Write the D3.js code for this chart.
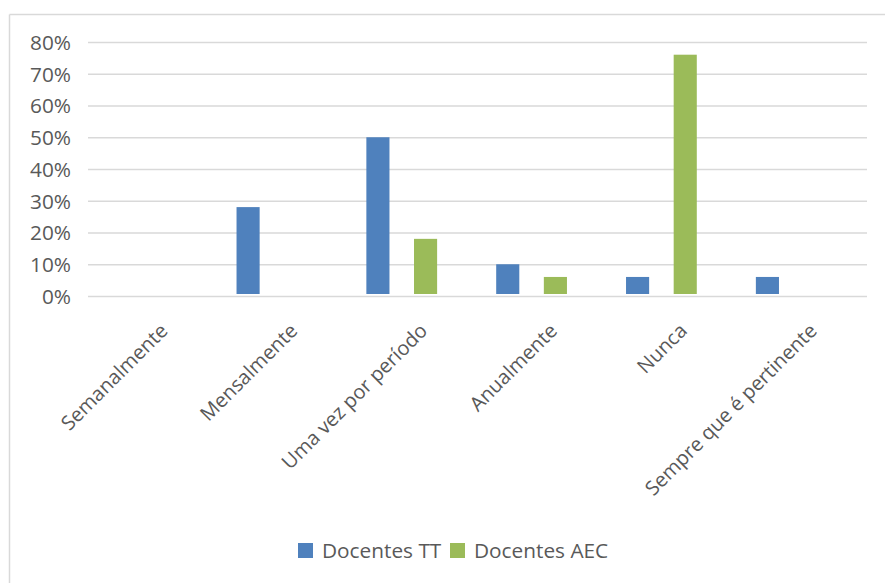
<!DOCTYPE html>
<html>
<head>
<meta charset="utf-8">
<script src="https://cdn.jsdelivr.net/npm/d3@7"></script>
<style>
  html, body { margin: 0; padding: 0; background: #ffffff; }
  svg { display: block; }
  text { font-family: "Open Sans", "DejaVu Sans", sans-serif; fill: #595959; }
</style>
</head>
<body>
<svg id="chart" width="885" height="583"></svg>
<script>
// ---- Data ----
const categories = ["Semanalmente", "Mensalmente", "Uma vez por período", "Anualmente", "Nunca", "Sempre que é pertinente"];
const seriesNames = ["Docentes TT", "Docentes AEC"];
const docentesTT  = [0, 0.28, 0.50, 0.10, 0.06, 0.06];
const docentesAEC = [0, 0, 0.18, 0.06, 0.76, 0];
const yTicks = [0, 0.1, 0.2, 0.3, 0.4, 0.5, 0.6, 0.7, 0.8];
const colors = ["#4F81BD", "#9BBB59"];

const seriesValues = [docentesTT, docentesAEC];

// ---- Layout ----
const W = 885, H = 583;
const plot = { left: 88, right: 867, top: 42, bottom: 296 };

const svg = d3.select("#chart");

// outer chart border (left and top visible)
svg.append("line").attr("x1", 9.5).attr("x2", 9.5).attr("y1", 14.5).attr("y2", H)
  .attr("stroke", "#d9d9d9").attr("stroke-width", 1.5);
svg.append("line").attr("x1", 9.5).attr("x2", W).attr("y1", 14.5).attr("y2", 14.5)
  .attr("stroke", "#d9d9d9").attr("stroke-width", 1.5);

const y = d3.scaleLinear().domain([0, 0.8]).range([plot.bottom, plot.top]);
const x0 = d3.scaleBand().domain(categories).range([plot.left, plot.right]).paddingInner(0).paddingOuter(0);
const bw = x0.bandwidth();
const x1 = d3.scalePoint().domain(seriesNames).range([bw * 0.233, bw * 0.6]);
const barW = bw * 0.178;

// gridlines
const yAxis = d3.axisLeft(y).tickValues(yTicks).tickFormat(d3.format(".0%")).tickSize(-(plot.right - plot.left)).tickPadding(17);
const gY = svg.append("g").attr("transform", `translate(${plot.left},0)`).call(yAxis);
gY.select(".domain").remove();
gY.selectAll(".tick line").attr("stroke", "#d9d9d9").attr("stroke-width", 1.6);
gY.selectAll(".tick text").attr("font-size", "20.8px").attr("fill", "#595959").attr("dy", "0.35em");

// bars
seriesValues.forEach((vals, si) => {
  svg.append("g").selectAll("rect")
    .data(vals.map((v, i) => ({ cat: categories[i], v })))
    .join("rect")
    .filter(d => d.v > 0)
    .attr("x", d => x0(d.cat) + x1(seriesNames[si]) - barW / 2)
    .attr("y", d => y(d.v))
    .attr("width", barW)
    .attr("height", d => y(0) - y(d.v) - 2)
    .attr("fill", colors[si]);
});

// category labels rotated -45
const xAxis = d3.axisBottom(x0).tickSize(0).tickPadding(0);
const gX = svg.append("g").attr("transform", `translate(0,${plot.bottom})`).call(xAxis);
gX.select(".domain").remove();
gX.selectAll(".tick text")
  .attr("font-size", "20px")
  .attr("fill", "#595959")
  .attr("text-anchor", "end")
  .attr("dy", null)
  .attr("y", null)
  .attr("transform", "translate(16,36) rotate(-45)");

// legend
const legend = svg.append("g");
const legendItems = [
  { name: seriesNames[0], color: colors[0], x: 298 },
  { name: seriesNames[1], color: colors[1], x: 450 }
];
legendItems.forEach(it => {
  legend.append("rect").attr("x", it.x).attr("y", 543).attr("width", 15).attr("height", 15).attr("fill", it.color);
  legend.append("text").attr("x", it.x + 24).attr("y", 550.5).attr("dy", "0.35em")
    .attr("font-size", "20.8px").text(it.name);
});
</script>
</body>
</html>
